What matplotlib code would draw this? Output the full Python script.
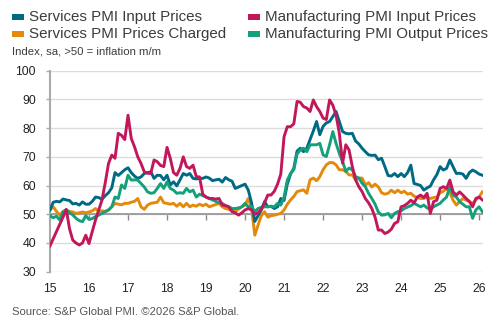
import numpy as np
import pandas as pd
import matplotlib
matplotlib.use("Agg")
import matplotlib.pyplot as plt
from matplotlib.patches import Rectangle

# monthly, Jan 2015 .. Feb 2026
months = pd.date_range("2015-01-01", "2026-02-01", freq="MS")

services_input = [
    51.5, 54.2, 54.5, 54.3, 55.3, 55.0, 54.8, 53.6, 53.8, 53.2, 54.3, 53.5,
    53.5, 54.5, 56.0, 55.8, 55.2, 56.5, 57.5, 59.2, 64.5, 63.5, 64.5, 65.5,
    66.2, 64.5, 63.3, 62.5, 63.0, 64.2, 64.5, 64.8, 62.5, 63.6, 63.5, 62.0,
    63.6, 60.2, 61.3, 59.9, 62.0, 64.2, 63.6, 64.2, 62.5, 62.3, 62.5, 62.5,
    63.0, 62.6, 61.7, 62.0, 62.2, 61.2, 62.8, 62.0, 61.5, 59.0, 59.5, 60.0,
    60.5, 58.4, 54.0, 47.5, 49.5, 51.5, 54.4, 52.6, 52.8, 52.0, 52.6, 55.5,
    54.8, 60.5, 64.0, 66.0, 72.0, 73.0, 71.8, 73.0, 76.0, 79.0, 82.3, 77.7,
    80.6, 81.8, 82.3, 84.0, 85.8, 82.3, 78.8, 78.2, 78.0, 78.2, 75.5, 74.5,
    73.0, 71.8, 70.7, 70.5, 70.6, 69.0, 69.5, 66.6, 63.5, 63.3, 64.2, 63.1,
    64.2, 63.1, 64.5, 67.1, 60.7, 60.4, 60.0, 58.4, 59.2, 59.8, 62.0, 63.8,
    66.6, 65.4, 66.0, 68.9, 66.5, 64.2, 64.3, 64.0, 62.5, 64.5, 65.4, 64.8,
    64.0, 63.6,
]

manufacturing_input = [
    39.0, 41.5, 44.0, 46.5, 49.0, 51.7, 45.0, 41.0, 40.0, 39.3, 40.0, 42.7,
    39.8, 44.0, 48.0, 51.5, 55.0, 61.0, 67.7, 70.6, 69.5, 78.2, 77.5, 76.0,
    84.5, 76.4, 73.5, 70.0, 67.7, 64.8, 64.3, 64.2, 68.9, 68.3, 67.0, 66.6,
    73.3, 69.5, 64.5, 63.6, 66.0, 70.0, 66.6, 66.0, 67.1, 63.1, 63.0, 57.0,
    56.0, 55.5, 55.5, 55.3, 55.5, 53.2, 53.0, 52.6, 50.9, 50.5, 49.7, 50.5,
    51.5, 52.0, 51.5, 50.0, 50.5, 51.7, 54.0, 56.7, 56.7, 58.0, 60.5, 64.0,
    77.0, 80.5, 80.5, 81.5, 89.3, 89.0, 87.5, 87.0, 85.8, 89.8, 87.5, 85.8,
    83.5, 83.0, 89.8, 88.0, 84.5, 78.2, 67.8, 74.2, 72.4, 66.6, 62.0, 59.6,
    57.9, 55.5, 54.0, 52.0, 49.0, 44.5, 44.5, 43.3, 43.8, 44.8, 46.8, 47.4,
    52.6, 53.0, 53.8, 54.9, 54.0, 56.0, 56.7, 55.8, 57.3, 50.3, 54.4, 54.9,
    59.0, 59.6, 59.0, 61.9, 57.8, 56.7, 57.8, 56.7, 55.5, 54.5, 52.6, 55.5,
    56.0, 55.0,
]

services_charged = [
    51.5, 52.6, 51.0, 49.7, 50.9, 51.5, 51.0, 50.8, 50.3, 50.5, 50.8, 50.5,
    50.8, 51.2, 52.0, 51.0, 51.2, 51.0, 51.5, 52.6, 53.8, 53.5, 53.3, 53.8,
    53.8, 54.2, 54.5, 55.5, 52.6, 51.7, 53.2, 53.8, 54.0, 54.2, 56.0, 54.0,
    53.8, 53.5, 53.8, 52.8, 53.8, 52.6, 53.8, 52.6, 53.2, 52.8, 53.5, 53.0,
    53.5, 52.6, 53.0, 53.4, 53.8, 52.6, 52.0, 51.7, 51.5, 50.9, 51.8, 52.6,
    53.2, 55.5, 52.0, 42.7, 46.2, 49.5, 50.9, 49.0, 49.5, 49.7, 50.0, 50.3,
    51.5, 53.5, 55.0, 56.2, 57.9, 58.2, 58.5, 57.3, 62.0, 62.6, 61.7, 63.1,
    65.5, 67.2, 68.0, 68.0, 67.2, 65.5, 65.5, 64.9, 63.7, 63.7, 62.0, 62.6,
    62.6, 60.2, 61.0, 59.5, 60.5, 59.5, 57.5, 57.0, 57.3, 58.4, 57.5, 58.4,
    57.5, 58.0, 57.0, 57.3, 56.3, 55.8, 55.5, 55.5, 56.0, 55.5, 55.8, 56.0,
    57.5, 58.0, 59.0, 57.5, 54.9, 53.2, 54.4, 55.5, 54.9, 54.4, 53.8, 55.0,
    56.0, 57.8,
]

manufacturing_output = [
    49.5, 48.8, 49.3, 48.0, 50.9, 51.5, 50.5, 49.8, 48.6, 47.8, 47.4, 49.5,
    48.2, 48.5, 49.2, 49.7, 50.3, 50.9, 51.5, 52.6, 56.0, 55.5, 60.2, 59.0,
    63.6, 61.9, 62.0, 61.9, 60.7, 59.5, 57.8, 57.3, 57.5, 59.0, 60.7, 59.0,
    61.3, 59.0, 58.4, 57.3, 57.5, 57.3, 59.0, 57.8, 58.4, 56.0, 57.0, 56.5,
    56.0, 55.5, 55.0, 54.5, 54.0, 53.8, 53.0, 52.6, 52.0, 52.0, 52.2, 52.6,
    53.8, 52.6, 52.8, 50.9, 52.0, 52.4, 52.6, 52.6, 52.8, 52.6, 53.8, 53.2,
    56.0, 61.9, 64.2, 65.5, 71.0, 72.4, 73.0, 71.8, 74.2, 74.2, 74.2, 74.7,
    70.7, 70.1, 74.2, 78.8, 74.7, 71.2, 68.4, 64.9, 66.1, 65.5, 63.1, 62.6,
    60.8, 59.6, 57.3, 55.5, 53.5, 50.8, 49.7, 49.8, 50.3, 48.8, 50.3, 50.9,
    51.2, 52.0, 52.5, 53.0, 53.8, 53.2, 52.6, 53.2, 52.2, 51.7, 52.6, 53.2,
    53.8, 55.0, 56.0, 59.6, 56.7, 56.0, 54.4, 53.5, 52.6, 52.6, 48.6, 51.5,
    52.6, 50.9,
]

series_names = ["Services PMI Input Prices", "Manufacturing PMI Input Prices",
                "Services PMI Prices Charged", "Manufacturing PMI Output Prices"]
colors = ["#006A85", "#C2185B", "#E5890A", "#13A07A"]
year_labels = ["15", "16", "17", "18", "19", "20", "21", "22", "23", "24", "25", "26"]

text_col = "#3c3c3c"
plt.rcParams["font.family"] = ["Liberation Sans", "DejaVu Sans"]

fig = plt.figure(figsize=(5.02, 3.32), dpi=100)
ax = fig.add_axes([50 / 502, 1 - 271.7 / 332, 433 / 502, 201 / 332])

x = np.arange(len(months))
data = [services_input, manufacturing_input, services_charged, manufacturing_output]
z = [4, 6, 3, 5]  # orange below, red on top
for vals, c, zz in zip(data, colors, z):
    ax.plot(x, vals, color=c, lw=2.1, solid_joinstyle="round", zorder=zz)

ax.set_ylim(30, 100)
ax.set_xlim(0, 133.2)
ax.set_yticks(range(30, 101, 10))
ax.yaxis.grid(True, color="#dcdcdc", lw=1)
ax.axhline(50, color="#8a8a8a", lw=1.1, zorder=2)

ax.set_xticks(np.arange(0, 133, 12))
ax.set_xticklabels(year_labels)
ax.tick_params(axis="x", length=0, pad=8, labelsize=8.8, labelcolor="#222222")
ax.tick_params(axis="y", length=3, color="#aaaaaa", width=1, pad=7,
               labelsize=8.8, labelcolor="#222222")
for s in ["top", "right", "bottom"]:
    ax.spines[s].set_visible(False)
ax.spines["left"].set_color("#aaaaaa")
ax.spines["left"].set_linewidth(1.5)

# tick marks sitting on the 50 line
sec = ax.secondary_xaxis((50 - 30) / 70)
sec.set_xticks(np.arange(0, 133, 12))
sec.tick_params(axis="x", length=4, color="#8a8a8a", width=1, labelbottom=False)
sec.spines["bottom"].set_visible(False)

# legend, two columns: services on the left, manufacturing on the right
leg_pos = [(12, 17), (248, 17), (12, 34), (248, 34)]
for name, c, (px, py) in zip(series_names, colors, leg_pos):
    fig.patches.append(Rectangle((px / 502, 1 - (py + 3.3) / 332), 12 / 502, 6.7 / 332,
                                 transform=fig.transFigure, facecolor=c, edgecolor="none"))
    fig.text((px + 17) / 502, 1 - py / 332, name, fontsize=10.9, color=text_col,
             va="center", ha="left")

fig.text(12 / 502, 1 - 51 / 332, "Index, sa, >50 = inflation m/m", fontsize=8.2,
         color=text_col, va="center")
fig.text(12 / 502, 1 - 312 / 332, "Source: S&P Global PMI. \u00a92026 S&P Global.",
         fontsize=8.1, color="#555555", va="center")

fig.savefig("out.png", dpi=100)
